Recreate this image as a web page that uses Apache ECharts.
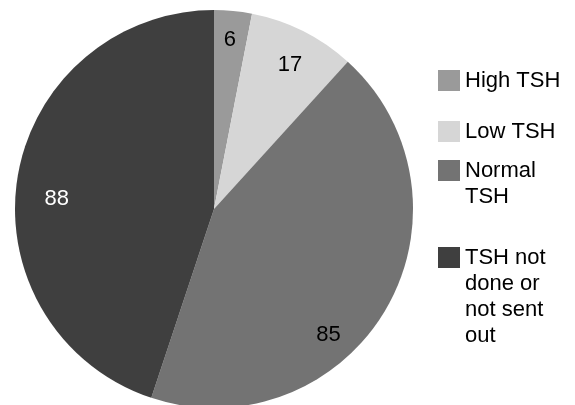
<!DOCTYPE html>
<html><head><meta charset="utf-8">
<script src="https://cdn.jsdelivr.net/npm/echarts@6/dist/echarts.min.js"></script>
<style>html,body{margin:0;padding:0;background:#fff}#c{width:575px;height:405px}</style>
</head><body><div id="c"></div>
<script>
const categories = ['High TSH', 'Low TSH', 'Normal TSH', 'TSH not done or not sent out'];
const legendLabels = ['High TSH', 'Low TSH', 'Normal\nTSH', 'TSH not\ndone or\nnot sent\nout'];
const values = [6, 17, 85, 88];
const colors = ['#9a9a9a', '#d6d6d6', '#737373', '#3f3f3f'];
const labelColors = ['#000', '#000', '#000', '#fff'];
const labelShift = [[6, -67], [30, -52], [26, 74], [-56, 6]];
const legendTops = [70, 121, 160, 247];

const font = 'Liberation Sans, Arial, sans-serif';
const lineH = 26;
const legends = categories.map((name, i) => {
  const n = legendLabels[i].split('\n').length;
  return {
    data: [name],
    orient: 'vertical',
    left: 438,
    top: legendTops[i] + 10.5 - 13 * (2 * n - 1),
    padding: 0,
    itemWidth: 22,
    itemHeight: 21,
    itemGap: 0,
    icon: 'rect',
    selectedMode: false,
    formatter: () => '\n'.repeat(n - 1) + legendLabels[i],
    textStyle: { fontFamily: font, fontSize: 22, color: '#000', lineHeight: lineH }
  };
});

const chart = echarts.init(document.getElementById('c'), null, { renderer: 'canvas' });
chart.setOption({
  animation: false,
  color: colors,
  legend: legends,
  series: [{
    type: 'pie',
    center: [214, 209],
    radius: 199,
    startAngle: 90,
    clockwise: true,
    silent: true,
    itemStyle: { borderWidth: 0 },
    label: { show: true, position: 'inside', formatter: '{c}', fontFamily: font, fontSize: 22 },
    labelLine: { show: false },
    labelLayout: (p) => ({ dx: labelShift[p.dataIndex][0], dy: labelShift[p.dataIndex][1] }),
    data: categories.map((name, i) => ({
      name, value: values[i],
      itemStyle: { color: colors[i] },
      label: { color: labelColors[i] }
    }))
  }]
});
</script></body></html>
